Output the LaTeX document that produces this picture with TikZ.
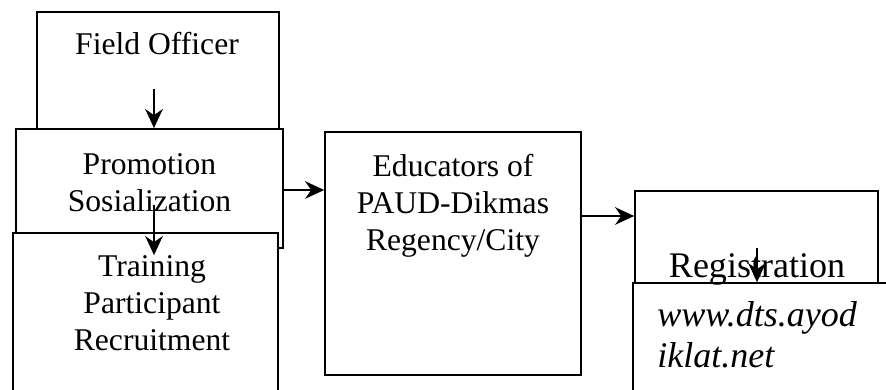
\documentclass[tikz,border=0pt]{standalone}
\usepackage{fontspec}
\setmainfont{Liberation Serif}
\usetikzlibrary{arrows.meta}

\begin{document}
\begin{tikzpicture}[x=0.02cm, y=-0.02cm,
    every node/.style={font=\fontsize{18}{21}\selectfont},
    big/.style={font=\fontsize{20.5}{23.4}\selectfont},
    box/.style={draw, fill=white, line width=1pt, inner sep=0pt},
    txt/.style={inner sep=0pt, align=center},
    arr/.style={line width=1.3pt, -{Stealth[length=3.8mm, width=3.5mm, inset=1.2mm]}}]
                    \useasboundingbox (0,0) rectangle (886,389);
                    \clip (0,0) rectangle (886,389);

                    % boxes, drawn back to front
                    \node[box, minimum width=4.84cm, minimum height=2.56cm] (field) at (158,76) {};
                    \node[box, minimum width=5.34cm, minimum height=2.38cm] (promo) at (149.5,188.5) {};
                    \node[box, minimum width=5.30cm, minimum height=3.34cm] (train) at (145.5,316.5) {};
                    \node[box, minimum width=5.12cm, minimum height=4.86cm] (edu) at (453,253.5) {};
                    \node[box, minimum width=4.86cm, minimum height=1.98cm] (reg) at (756.5,240.5) {};

                    \node[txt] (fieldtxt) at (157,44) {Field Officer};
                    \node[txt] (promotxt) at (149.5,183) {Promotion\\Sosialization};
                    \node[box, minimum width=5.34cm, minimum height=2.34cm] (www) at (766.5,341.5) {};
                    \node[txt] (traintxt) at (152,303) {Training\\Participant\\Recruitment};
                    \node[txt] (edutxt) at (453,206) {Educators of\\PAUD-Dikmas\\Regency/City};
                    \node[txt, big] (regtxt) at (757,269) {Registration};
                    \node[txt, big, align=left, anchor=west] (wwwtxt) at (657,335) {\itshape www.dts.ayod\\\itshape iklat.net};

                    % connectors
                    \coordinate (a1) at (154,89);
                    \coordinate (a2) at (154,205);
                    \coordinate (a4) at (757,248);
                    \draw[arr] (a1) -- (a1 |- promo.north);
                    \draw[arr] (a2) -- (a2 |- traintxt.north);
                    \draw[arr] (promo.east |- 0,190) -- (edu.west |- 0,190);
                    \draw[arr] (edu.east |- 0,216) -- (reg.west |- 0,216);
                    \draw[arr] (a4) -- (a4 |- www.north);
                \end{tikzpicture}
\end{document}
